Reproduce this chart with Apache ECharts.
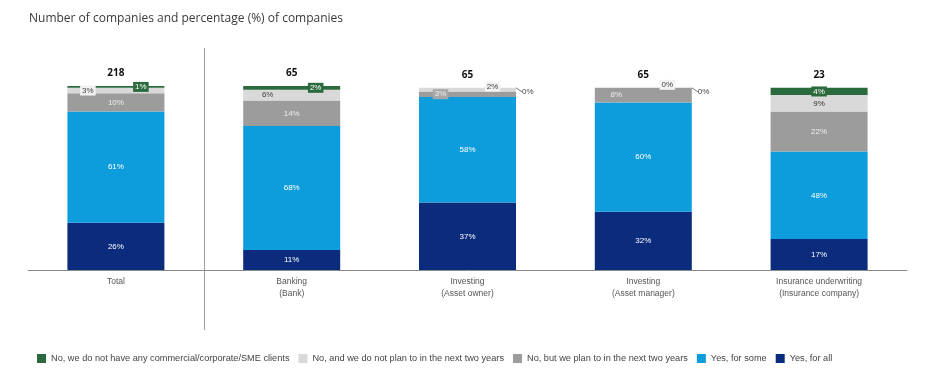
<!DOCTYPE html>
<html>
<head>
<meta charset="utf-8">
<script src="https://cdn.jsdelivr.net/npm/echarts@6/dist/echarts.min.js"></script>
<style>
  html, body { margin: 0; padding: 0; background: #ffffff; }
  #chart { width: 925px; height: 369px; }
</style>
</head>
<body>
<div id="chart"></div>
<script>
// Respondent groups along the x axis
const categories = [
  'Total',
  'Banking\n(Bank)',
  'Investing\n(Asset owner)',
  'Investing\n(Asset manager)',
  'Insurance underwriting\n(Insurance company)'
];
// Number of companies in each group (printed above each column)
const companyCounts = [218, 65, 65, 65, 23];

// Answer shares, % of companies in each group
const yesForAll   = [26, 11, 37, 32, 17];
const yesForSome  = [61, 68, 58, 60, 48];
const noButPlan   = [10, 14, 3, 8, 22];
const noNoPlan    = [3, 6, 2, 0, 9];
const noClients   = [1, 2, 0, 0, 4];

const answerNames = [
  'No, we do not have any commercial/corporate/SME clients',
  'No, and we do not plan to in the next two years',
  'No, but we plan to in the next two years',
  'Yes, for some',
  'Yes, for all'
];

const colors = {
  noClients: '#2b6a3c',
  noNoPlan: '#d9d9d9',
  noButPlan: '#9c9c9c',
  yesForSome: '#0e9ddc',
  yesForAll: '#0b2c7c'
};

const FONT = '"Liberation Sans", Arial, sans-serif';

// Label styling for the thin segments at the top of each column
const boxGreen = { backgroundColor: '#2b6a3c', color: '#ffffff', padding: [1, 2] };
const boxLight = { backgroundColor: '#f2f2f2', color: '#444444', padding: [1, 2] };
const boxGrey  = { backgroundColor: '#a8a8a8', color: '#eeeeee', padding: [1, 2] };

// Per-point label shifts (dx, dy) and styles, keyed by series then column
const labelTweaks = {
  noClients: {
    0: { shift: [25, 0], style: boxGreen },
    1: { shift: [24, 0], style: boxGreen },
    2: { shift: [4, 4], style: { position: 'right', distance: 2, color: '#444444' }, guide: true },
    3: { shift: [4, 4], style: { position: 'right', distance: 2, color: '#444444' }, guide: true },
    4: { shift: [0, 0], style: boxGreen }
  },
  noNoPlan: {
    0: { shift: [-28, 0], style: boxLight },
    1: { shift: [-24, 0], style: { color: '#444444' } },
    2: { shift: [25, -3], style: boxLight },
    3: { shift: [24, -3], style: boxLight },
    4: { shift: [0, 0], style: { color: '#333333' } }
  },
  noButPlan: {
    2: { shift: [-27, 0], style: boxGrey },
    3: { shift: [-27, 0], style: {} }
  }
};

function segmentData(key, values) {
  const tweaks = labelTweaks[key] || {};
  return values.map((v, i) => {
    const t = tweaks[i];
    if (!t) return v;
    const item = { value: v, label: Object.assign({}, t.style) };
    if (t.guide) item.labelLine = { show: true, lineStyle: { color: '#555555', width: 0.8 } };
    return item;
  });
}

function segmentSeries(key, name, values, labelColor) {
  return {
    name: name,
    type: 'bar',
    stack: 'share',
    barWidth: 97,
    itemStyle: { color: colors[key] },
    emphasis: { disabled: true },
    label: {
      show: true,
      position: 'inside',
      fontFamily: FONT,
      fontSize: 8,
      color: labelColor,
      formatter: (p) => p.value + '%'
    },
    labelLayout: (p) => {
      const t = (labelTweaks[key] || {})[p.dataIndex];
      return t ? { dx: t.shift[0], dy: t.shift[1] } : { dx: 0, dy: 0 };
    },
    data: segmentData(key, values)
  };
}

const chart = echarts.init(document.getElementById('chart'), null, { renderer: 'canvas' });

const option = {
  animation: false,
  backgroundColor: '#ffffff',
  title: {
    text: 'Number of companies and percentage (%) of companies',
    left: 24,
    top: 8,
    textStyle: { fontFamily: '"Open Sans", "Liberation Sans", sans-serif', fontSize: 12, fontWeight: 'normal', color: '#3a3a3a' }
  },
  legend: {
    left: 32,
    top: 349,
    icon: 'rect',
    itemWidth: 9,
    itemHeight: 9,
    itemGap: 9,
    textStyle: { fontFamily: FONT, fontSize: 9.2, color: '#444444' },
    data: answerNames
  },
  grid: { left: 28, right: 18, top: 86, height: 184, containLabel: false },
  xAxis: {
    type: 'category',
    data: categories,
    axisLine: { lineStyle: { color: '#8a8a8a', width: 1 } },
    axisTick: { show: false },
    axisLabel: { fontFamily: FONT, fontSize: 8.5, color: '#555555', lineHeight: 12, margin: 6 }
  },
  yAxis: {
    type: 'value',
    min: 0,
    max: 101,
    show: false,
    splitLine: { show: false }
  },
  series: [
    segmentSeries('yesForAll', answerNames[4], yesForAll, '#ffffff'),
    segmentSeries('yesForSome', answerNames[3], yesForSome, '#ffffff'),
    segmentSeries('noButPlan', answerNames[2], noButPlan, '#eeeeee'),
    segmentSeries('noNoPlan', answerNames[1], noNoPlan, '#444444'),
    segmentSeries('noClients', answerNames[0], noClients, '#ffffff'),
    {
      // zero-height cap that carries the company count above each column
      name: 'count',
      type: 'bar',
      stack: 'share',
      barWidth: 97,
      silent: true,
      itemStyle: { color: 'transparent' },
      label: {
        show: true,
        position: 'top',
        distance: 8,
        fontFamily: '"Open Sans", "Liberation Sans", sans-serif',
        fontSize: 10,
        fontWeight: 'bold',
        color: '#111111',
        formatter: (p) => companyCounts[p.dataIndex]
      },
      data: companyCounts.map(() => 0)
    }
  ]
};

chart.setOption(option);

// Divider between the overall column and the sector breakdown
const c0 = chart.convertToPixel({ xAxisIndex: 0 }, 0);
const c1 = chart.convertToPixel({ xAxisIndex: 0 }, 1);
const dividerX = Math.round((c0 + c1) / 2) + 0.5;
chart.setOption({
  graphic: [{
    type: 'line',
    silent: true,
    shape: { x1: dividerX, y1: 48, x2: dividerX, y2: 330 },
    style: { stroke: '#a0a0a0', lineWidth: 1 }
  }]
});
</script>
</body>
</html>
